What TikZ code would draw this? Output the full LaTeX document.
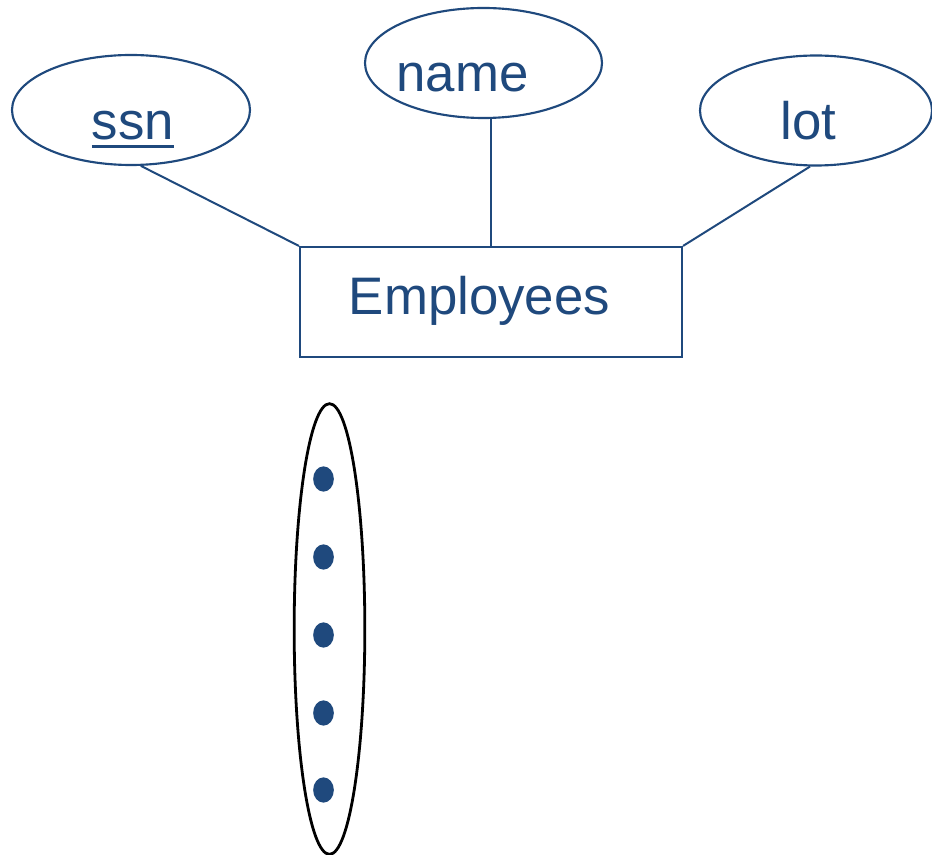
\documentclass[tikz,border=0pt]{standalone}
\usepackage{fontspec}
\setmainfont{Liberation Sans}
\usepackage{tikz}
\usetikzlibrary{positioning,shapes.geometric,calc}
\definecolor{erblue}{RGB}{31,73,125}
% key attribute: text with a heavier underline
\newcommand{\keyattr}[1]{\setbox0\hbox{#1}\rlap{\copy0}\rule[-6pt]{\wd0}{2.2pt}}

\begin{document}
\begin{tikzpicture}[x=0.75pt, y=-0.75pt,
  attr/.style={ellipse, draw=erblue, line width=1.6pt, inner sep=0pt,
               minimum width=#1*0.75pt, minimum height=82.5pt},
  ent/.style={rectangle, draw=erblue, line width=1.6pt, inner sep=0pt,
              minimum width=286.5pt, minimum height=82.5pt},
  txt/.style={anchor=base, inner sep=0pt, text=erblue,
              font=\fontsize{39.6}{47}\selectfont},
  ln/.style={draw=erblue, line width=1.5pt},
  dot/.style={ellipse, fill=erblue, inner sep=0pt,
              minimum width=15.5pt, minimum height=19pt},
]
\useasboundingbox (0,0) rectangle (932,855);

% attributes
\node[attr=238] (ssn)  at (131,110)   {};
\node[attr=237] (name) at (483.5,63)  {};
\node[attr=232] (lot)  at (816,110.5) {};
\node[txt] (ssnt)  at (133,140)   {\keyattr{ssn}};
\node[txt] (namet) at (462.5,92)  {name};
\node[txt] (lott)  at (808.5,140) {lot};

% entity set
\node[ent] (emp) at (491,302) {};
\node[txt] (empt) at (479.5,315) {Employees};

\draw[ln] (ssn.-80) -- (emp.north west);
\draw[ln] (name.south -| emp.north) -- (emp.north);
\draw[ln] (lot.-96) -- (emp.north east);

% instances
\node[ellipse, draw=black, line width=2.1pt, inner sep=0pt,
      minimum width=53pt, minimum height=338pt] (set) at (329.5,629) {};
\foreach \i/\y in {1/479,2/557,3/635,4/713,5/790}
  \node[dot] (d\i) at (323.5,\y) {};
\end{tikzpicture}
\end{document}
